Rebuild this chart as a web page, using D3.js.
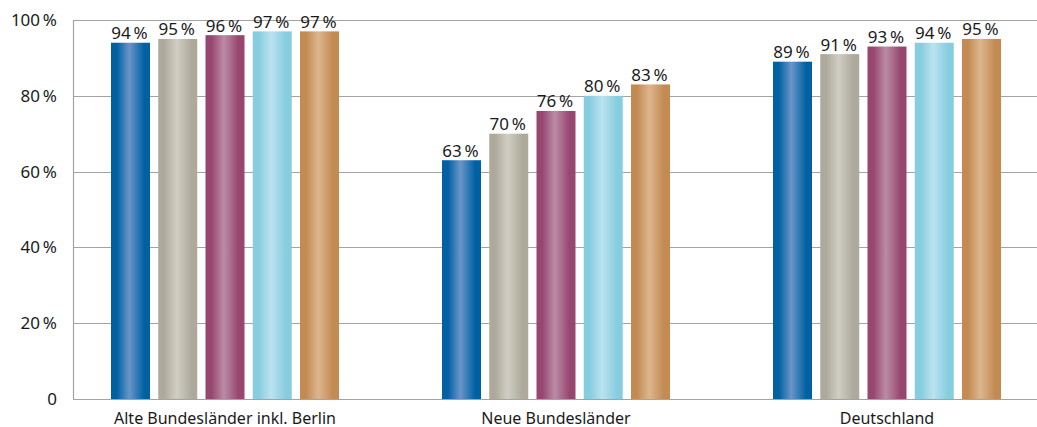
<!DOCTYPE html>
<html>
<head>
<meta charset="utf-8">
<script src="https://cdn.jsdelivr.net/npm/d3@7/dist/d3.min.js"></script>
<style>
  html, body { margin: 0; padding: 0; background: #fff; }
  svg { display: block; }
  text { font-family: "Noto Sans", "Open Sans", sans-serif; fill: #1a1a1a; }
</style>
</head>
<body>
<svg id="chart" width="1037" height="427"></svg>
<script>
const categories = ["Alte Bundesländer inkl. Berlin", "Neue Bundesländer", "Deutschland"];
const seriesNames = ["s1", "s2", "s3", "s4", "s5"];
const values1 = [94, 95, 96, 97, 97];
const values2 = [63, 70, 76, 80, 83];
const values3 = [89, 91, 93, 94, 95];
const groupValues = [values1, values2, values3];
const yTicks = [0, 20, 40, 60, 80, 100];
const yTickLabels = ["0", "20\u2009%", "40\u2009%", "60\u2009%", "80\u2009%", "100\u2009%"];

const colors = [
  { edge: "#0061a2", mid: "#6b95c8" },
  { edge: "#adaa9c", mid: "#d0cec3" },
  { edge: "#974670", mid: "#bb8ca6" },
  { edge: "#86cde0", mid: "#bbe3ef" },
  { edge: "#c38a52", mid: "#dcb68e" }
];

const svg = d3.select("#chart");
const axisX = 73, plotRight = 1037, y0 = 399, y100 = 20;

const y = d3.scaleLinear().domain([0, 100]).range([y0, y100]);
const x0 = d3.scaleBand().domain(categories).range([59.5, 1052.5]).padding(0);
const x1 = d3.scaleBand().domain(seriesNames).range([51.5, 279.5]).paddingInner(0.1746).paddingOuter(0);

// gradients
const defs = svg.append("defs");
colors.forEach((c, i) => {
  const g = defs.append("linearGradient").attr("id", "g" + i)
    .attr("x1", "0%").attr("x2", "100%").attr("y1", "0%").attr("y2", "0%");
  g.append("stop").attr("offset", "0%").attr("stop-color", c.edge);
  g.append("stop").attr("offset", "15%").attr("stop-color", c.edge);
  g.append("stop").attr("offset", "47%").attr("stop-color", c.mid);
  g.append("stop").attr("offset", "85%").attr("stop-color", c.edge);
  g.append("stop").attr("offset", "100%").attr("stop-color", c.edge);
});

// gridlines
svg.append("g").selectAll("line").data(yTicks).join("line")
  .attr("x1", axisX).attr("x2", plotRight)
  .attr("y1", d => Math.round(y(d)) + 0.5).attr("y2", d => Math.round(y(d)) + 0.5)
  .attr("stroke", "#a3a3a3").attr("stroke-width", 1.2);

// vertical axis line
svg.append("line")
  .attr("x1", axisX + 0.5).attr("x2", axisX + 0.5)
  .attr("y1", y(100)).attr("y2", y(0))
  .attr("stroke", "#a3a3a3").attr("stroke-width", 1.2);

// y tick labels
svg.append("g").selectAll("text").data(yTicks).join("text")
  .attr("x", 57).attr("y", d => y(d) + 6)
  .attr("text-anchor", "end").attr("font-size", 17)
  .text((d, i) => yTickLabels[i]);

// bars
const groups = svg.append("g").selectAll("g").data(categories).join("g")
  .attr("transform", d => `translate(${x0(d)},0)`);

groups.each(function(cat, gi) {
  const g = d3.select(this);
  const vals = groupValues[gi];
  g.selectAll("rect").data(seriesNames).join("rect")
    .attr("x", s => x1(s))
    .attr("width", x1.bandwidth())
    .attr("y", (s, i) => y(vals[i]))
    .attr("height", (s, i) => y(0) - y(vals[i]))
    .attr("fill", (s, i) => `url(#g${i})`);
  g.selectAll("text.val").data(seriesNames).join("text")
    .attr("class", "val")
    .attr("x", s => x1(s) + x1.bandwidth() / 2 - 1)
    .attr("y", (s, i) => y(vals[i]) - 3.5)
    .attr("text-anchor", "middle").attr("font-size", 17)
    .text((s, i) => vals[i] + "\u2009%");
});

// category labels
svg.append("g").selectAll("text").data(categories).join("text")
  .attr("x", d => x0(d) + (x1.range()[0] + x1.range()[1]) / 2)
  .attr("y", 423.5)
  .attr("text-anchor", "middle").attr("font-size", 16)
  .text(d => d);
</script>
</body>
</html>
